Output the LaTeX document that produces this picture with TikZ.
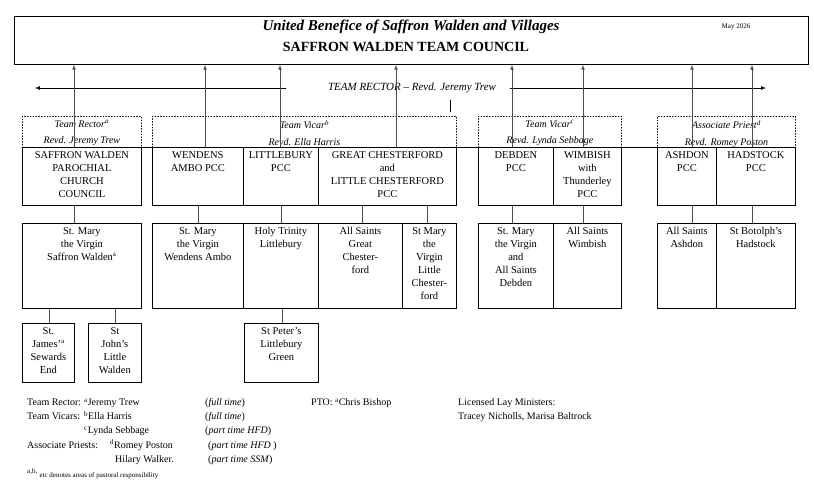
\documentclass[tikz,border=0pt]{standalone}
\usepackage{fontspec}
\setmainfont{Liberation Serif}
\usetikzlibrary{arrows,calc}
\newcommand{\sx}[1]{\textsuperscript{\scriptsize #1}}
\begin{document}
\begin{tikzpicture}[x=1pt,y=-1pt,line cap=round]
\tikzstyle{box}=[draw,line width=0.8pt,anchor=north west,inner sep=0pt]
\tikzstyle{txt}=[anchor=north,align=center,inner sep=4pt,font=\fontsize{10.5}{13}\selectfont]
\tikzstyle{role}=[draw,dotted,line width=0.8pt,anchor=north west,inner sep=0pt]
\tikzstyle{rtxt}=[anchor=north,align=center,inner sep=4pt,font=\fontsize{10}{16.5}\selectfont\itshape]
\tikzstyle{link}=[line width=0.7pt,gray!60!black]
\tikzstyle{foot}=[anchor=base west,inner sep=0pt,font=\fontsize{10}{12}\selectfont]
\useasboundingbox (0,0) rectangle (814,502);
% title
\node[box,minimum width=794pt,minimum height=48pt] (title) at (14,16) {};
\node[inner sep=0pt,font=\fontsize{15}{18}\selectfont\bfseries\itshape] (head) at (411,27)
  {United Benefice of Saffron Walden and Villages};
\node[inner sep=0pt,font=\fontsize{14}{18}\selectfont\bfseries] (council) at (406,47)
  {SAFFRON WALDEN TEAM COUNCIL};
\node[inner sep=0pt,font=\fontsize{7}{8}\selectfont] (date) at (736,27) {May 2026};
% team rector line
\node[inner sep=2pt,font=\fontsize{11}{13}\selectfont\itshape] (rector) at (412,88)
  {TEAM RECTOR -- Revd. Jeremy Trew};
\coordinate (lend) at (35,88);
\coordinate (rend) at (766,88);
\draw[-latex,line width=0.7pt] ($(rector.west)+(-40,0)$) -- (lend);
\draw[-latex,line width=0.7pt] ($(rector.east)+(12,0)$) -- (rend);
\draw[line width=0.7pt] (450,100) -- (450,112);
% clergy areas
\node[role,minimum width=119pt,minimum height=31pt,label={[rtxt]north:Team Rector\sx{a}\\Revd. Jeremy Trew}] (rrect) at (22,116) {};
\node[role,minimum width=304pt,minimum height=31pt,label={[rtxt]north:Team Vicar\sx{b}\\Revd. Ella Harris}] (rharris) at (152,116) {};
\node[role,minimum width=143pt,minimum height=31pt,label={[rtxt]north:Team Vicar\sx{c}\\Revd. Lynda Sebbage}] (rsebbage) at (478,116) {};
\node[role,minimum width=138pt,minimum height=31pt,label={[rtxt]north:Associate Priest\sx{d}\\Revd. Romey Poston}] (rposton) at (657,116) {};
\draw[line width=0.8pt] (rrect.south west) -- (rposton.south east);
% councils
\node[box,minimum width=119pt,minimum height=58pt,label={[txt]north:SAFFRON WALDEN\\PAROCHIAL\\CHURCH\\COUNCIL}] (swpcc) at (22,147) {};
\node[box,minimum width=91pt,minimum height=58pt,label={[txt]north:WENDENS\\AMBO PCC}] (wapcc) at (152,147) {};
\node[box,minimum width=75pt,minimum height=58pt,label={[txt]north:LITTLEBURY\\PCC}] (lbpcc) at (243,147) {};
\node[box,minimum width=138pt,minimum height=58pt,label={[txt]north:GREAT CHESTERFORD\\and\\LITTLE CHESTERFORD\\PCC}] (gcpcc) at (318,147) {};
\node[box,minimum width=75pt,minimum height=58pt,label={[txt]north:DEBDEN\\PCC}] (dbpcc) at (478,147) {};
\node[box,minimum width=68pt,minimum height=58pt,label={[txt]north:WIMBISH\\with\\Thunderley\\PCC}] (wbpcc) at (553,147) {};
\node[box,minimum width=59pt,minimum height=58pt,label={[txt]north:ASHDON\\PCC}] (adpcc) at (657,147) {};
\node[box,minimum width=79pt,minimum height=58pt,label={[txt]north:HADSTOCK\\PCC}] (hspcc) at (716,147) {};
% churches
\node[box,minimum width=119pt,minimum height=85pt,label={[txt]north:St. Mary\\the Virgin\\Saffron Walden\sx{a}}] (swch) at (22,223) {};
\node[box,minimum width=91pt,minimum height=85pt,label={[txt]north:St. Mary\\the Virgin\\Wendens Ambo}] (wach) at (152,223) {};
\node[box,minimum width=75pt,minimum height=85pt,label={[txt]north:Holy Trinity\\Littlebury}] (lbch) at (243,223) {};
\node[box,minimum width=84pt,minimum height=85pt,label={[txt]north:All Saints\\Great\\Chester-\\ford}] (gcch) at (318,223) {};
\node[box,minimum width=54pt,minimum height=85pt,label={[txt]north:St Mary\\the\\Virgin\\Little\\Chester-\\ford}] (lcch) at (402,223) {};
\node[box,minimum width=75pt,minimum height=85pt,label={[txt]north:St. Mary\\the Virgin\\and\\All Saints\\Debden}] (dbch) at (478,223) {};
\node[box,minimum width=68pt,minimum height=85pt,label={[txt]north:All Saints\\Wimbish}] (wbch) at (553,223) {};
\node[box,minimum width=59pt,minimum height=85pt,label={[txt]north:All Saints\\Ashdon}] (adch) at (657,223) {};
\node[box,minimum width=79pt,minimum height=85pt,label={[txt]north:St Botolph's\\Hadstock}] (hsch) at (716,223) {};
% chapels
\node[box,minimum width=52pt,minimum height=59pt,label={[txt]north:St.\\James'\sx{a}\\Sewards\\End}] (sjch) at (22,323) {};
\node[box,minimum width=53pt,minimum height=59pt,label={[txt]north:St\\John's\\Little\\Walden}] (jnch) at (88,323) {};
\node[box,minimum width=74pt,minimum height=59pt,label={[txt]north:St Peter's\\Littlebury\\Green}] (lgch) at (244,323) {};
% links up to council
\foreach \n/\p in {swpcc/74,wapcc/205,lbpcc/280,gcpcc/396,dbpcc/512,wbpcc/583,adpcc/692,hspcc/752}
  \draw[link,-latex] (\n.north -| \p,0) -- (title.south -| \p,0);
% links down
\foreach \a/\b/\p in {swpcc/swch/74,wapcc/wach/198,lbpcc/lbch/281,gcpcc/gcch/362,gcpcc/lcch/427,dbpcc/dbch/512,wbpcc/wbch/583,adpcc/adch/692,hspcc/hsch/752,swch/sjch/49,swch/jnch/115,lbch/lgch/282}
  \draw[link] (\a.south -| \p,0) -- (\b.north -| \p,0);
% key
\node[foot] (k1) at (27,406) {Team Rector:};
\node[foot] (k2) at (27,420) {Team Vicars:};
\node[foot] (k3) at (27,448) {Associate Priests:};
\node[foot] (n1) at (84,406) {\sx{a}Jeremy Trew};
\node[foot] (n2) at (84,420) {\sx{b}Ella Harris};
\node[foot] (n3) at (84,434) {\sx{c}Lynda Sebbage};
\node[foot] (n4) at (110,448) {\sx{d}Romey Poston};
\node[foot] (n5) at (115,462) {Hilary Walker.};
\node[foot] (t1) at (205,406) {(\textit{full time})};
\node[foot] (t2) at (205,420) {(\textit{full time})};
\node[foot] (t3) at (205,434) {(\textit{part time HFD})};
\node[foot] (t4) at (208,448) {(\textit{part time HFD })};
\node[foot] (t5) at (208,462) {(\textit{part time SSM})};
\node[foot,font=\fontsize{7}{8}\selectfont] (k6) at (27,477) {\sx{a,b,} etc denotes areas of pastoral responsibility};
\node[foot] (pto) at (311,406) {PTO: \sx{a}Chris Bishop};
\node[foot] (lay1) at (458,406) {Licensed Lay Ministers:};
\node[foot] (lay2) at (458,420) {Tracey Nicholls, Marisa Baltrock};
\end{tikzpicture}
\end{document}
